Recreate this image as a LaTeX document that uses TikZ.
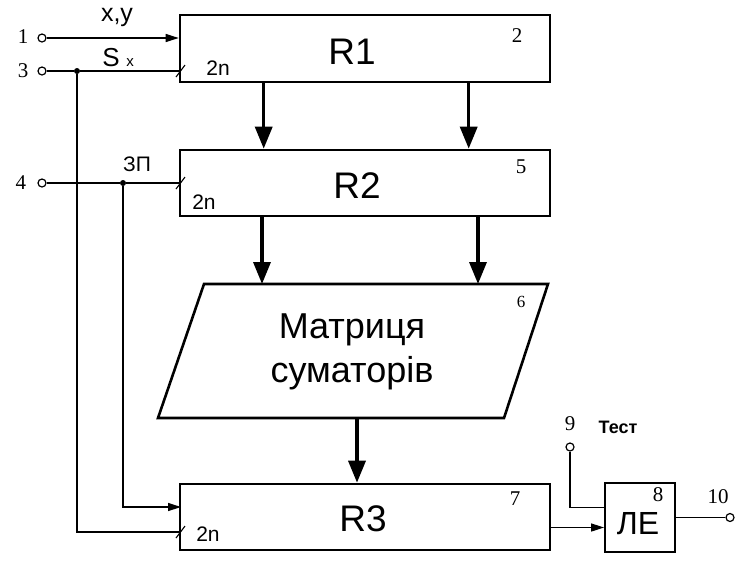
\documentclass[tikz,border=0pt]{standalone}
\usepackage{fontspec}
\setmainfont{Liberation Serif}
\newfontfamily\sansf{Liberation Sans}
\usetikzlibrary{arrows.meta,calc}
\begin{document}
\begin{tikzpicture}[x=1pt,y=-1pt,
  blk/.style={draw,line width=2.6pt,inner sep=0pt},
  btext/.style={font=\sansf\fontsize{37}{37}\selectfont,inner sep=0pt},
  smallblk/.style={draw,line width=1.8pt,inner sep=0pt},
  bigarrow/.style={line width=3.4pt,-{Triangle[length=22pt,width=17pt]}},
  sig/.style={line width=1.3pt},
  sigarrow/.style={line width=1.3pt,-{Triangle[length=13pt,width=8pt]}},
  term/.style={circle,draw,fill=white,line width=1.2pt,inner sep=0pt,minimum size=8pt},
  dot/.style={circle,fill=black,inner sep=0pt,minimum size=6pt},
  num/.style={font=\fontsize{21}{21}\selectfont,inner sep=0pt},
  lbl/.style={font=\sansf\fontsize{21}{21}\selectfont,inner sep=0pt},
  slash/.style={line width=1.1pt}
]
\path[use as bounding box] (0,0) rectangle (741,563);

% blocks
\node[blk,minimum width=370pt,minimum height=67pt] (r1) at (365,48.5) {};
\node[blk,minimum width=370pt,minimum height=66pt] (r2) at (365,183) {};
\node[blk,minimum width=370pt,minimum height=66pt] (r3) at (365,517) {};
\node[smallblk,minimum width=70pt,minimum height=69pt] (le) at (640,517.5) {};
\node[btext] (r1t) at (352,52) {R1};
\node[btext] (r2t) at (357,186) {R2};
\node[btext] (r3t) at (363,519) {R3};
\node[font=\sansf\fontsize{32}{32}\selectfont,inner sep=0pt] (let) at (638,524) {ЛЕ};

% matrix (parallelogram)
\coordinate (m1) at (204,284);
\coordinate (m2) at (548,284);
\coordinate (m3) at (504,418);
\coordinate (m4) at (158,418);
\draw[line width=2.6pt,line join=miter] (m1) -- (m2) -- (m3) -- (m4) -- cycle;
\node[font=\sansf\fontsize{36}{44}\selectfont,align=center,inner sep=0pt] (mx) at (352,352) {Матриця\\суматорів};

% block numbers
\node[num] (n2) at (517,36) {2};
\node[num] (n5) at (521,167) {5};
\node[num,font=\fontsize{17}{17}\selectfont] (n6) at (521,302) {6};
\node[num] (n7) at (515,499) {7};
\node[num] (n8) at (658,495) {8};

% data arrows
\coordinate (ma) at (262,284);
\coordinate (mb) at (478,284);
\coordinate (mc) at (357,418);
\draw[bigarrow] ($(r1.south west)+(85,0)$) -- ($(r2.north west)+(85,0)$);
\draw[bigarrow] ($(r1.south west)+(290,0)$) -- ($(r2.north west)+(290,0)$);
\draw[bigarrow] (r2.south -| ma) -- (ma);
\draw[bigarrow] (r2.south -| mb) -- (mb);
\draw[bigarrow] (mc) -- (r3.north -| mc);

% input terminals
\node[term] (t1) at (42,38) {};
\node[term] (t3) at (42,71) {};
\node[term] (t4) at (42,183) {};
\node[num] (l1) at (23,37) {1};
\node[num] (l3) at (23,71) {3};
\node[num] (l4) at (21,183) {4};

\node[dot] (d3) at (77,71) {};
\node[dot] (d4) at (123,183) {};

\draw[sigarrow] (t1) -- (t1 -| r1.west);
\draw[sig] (t3) -- (d3) -- (t3 -| r1.west);
\draw[sig] (t4) -- (d4) -- (t4 -| r2.west);

\coordinate (r3a) at (181,507);
\coordinate (r3b) at (181,532);
\draw[sigarrow] (d4) |- (r3a);
\draw[sig] (d3) |- (r3b);

% slash marks
\draw[slash] (176,77) -- (185,65);
\draw[slash] (176,189) -- (185,177);
\draw[slash] (176,538) -- (185,526);

% input labels
\node[font=\sansf\fontsize{25}{25}\selectfont,inner sep=0pt] (lxy) at (117,17) {x,y};
\node[font=\sansf\fontsize{26}{26}\selectfont,inner sep=0pt,anchor=base] (lsx) at (111,66) {S};
\node[font=\sansf\fontsize{15}{15}\selectfont,inner sep=0pt,anchor=base] (lsx2) at (130,66) {x};
\node[lbl] (w1) at (218,68) {2n};
\node[lbl] (w2) at (204,202) {2n};
\node[lbl] (w3) at (208,534) {2n};
\node[lbl] (lzp) at (137,164) {ЗП};

% logic element wiring
\node[term] (t9) at (570,447) {};
\node[num] (l9) at (570,424) {9};
\node[font=\sansf\bfseries\fontsize{18}{18}\selectfont,inner sep=0pt] (ltest) at (618,427) {Тест};
\coordinate (lea) at ($(le.west)+(0,10)$);
\coordinate (leb) at ($(le.west)+(0,-10)$);
\draw[sigarrow] (r3.east |- lea) -- (lea);
\draw[sig] (t9) |- (leb);
\node[term] (t10) at (730,517.5) {};
\node[num] (l10) at (718,497) {10};
\draw[sig] (le.east) -- (t10);
\end{tikzpicture}
\end{document}
